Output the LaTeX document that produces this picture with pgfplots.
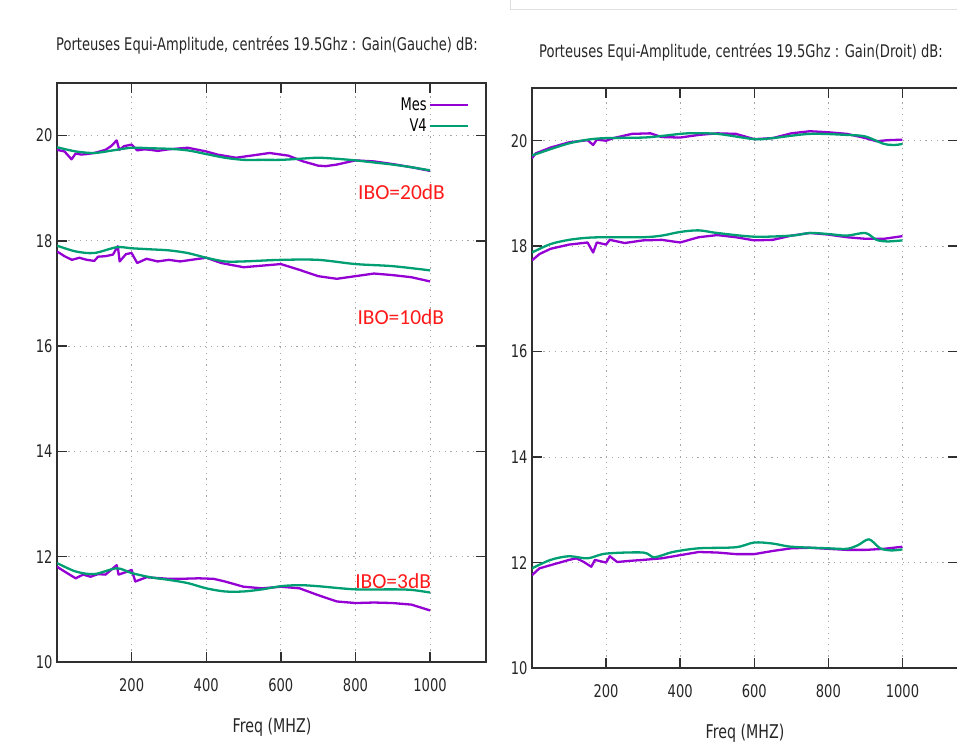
\documentclass[border=0pt]{standalone}
\usepackage{pgfplots}
\pgfplotsset{compat=1.18}
\usepackage{fontspec}
\setmainfont{DejaVu Sans}[FakeStretch=0.75]
\newfontfamily\ibofont{Carlito}
\definecolor{mes}{HTML}{9400D3}
\definecolor{vq}{HTML}{009E73}
\definecolor{ibo}{HTML}{FF1A1A}
\definecolor{axc}{HTML}{303030}
\pgfplotsset{gp/.style={
  scale only axis, xmin=0, xmax=1150, ymin=10, ymax=21,
  xtick={200,400,600,800,1000}, ytick={10,12,...,20},
  tick align=inside, major tick length=10bp,
  xmajorgrids, ymajorgrids,
  grid style={gray!70, line width=0.9bp, dash pattern=on 1.2bp off 4.5bp},
  axis line style={line width=1.4bp, axc},
  major tick style={line width=1.4bp, axc},
  tick label style={font=\fontsize{17.5}{19}\selectfont, text=black!85},
  /pgf/number format/assume math mode=true,
  /pgf/number format/1000 sep={},
  xticklabel style={yshift=-13bp},
  yticklabel style={xshift=-1bp},
  every axis plot/.append style={line width=2.3bp, line join=round},
  clip=true,
}}
\begin{document}
\begin{tikzpicture}
\useasboundingbox (0,0) rectangle (957bp,742bp);
% screenshot artifact
\draw[gray!25, line width=1bp] (510bp,742bp) -- (510bp,732bp) -- (957bp,732bp);
% titles
\node[font=\fontsize{17.5}{19}\selectfont, text=black!85] at (267bp,697bp) {Porteuses Equi-Amplitude, centrées 19.5Ghz : Gain(Gauche) dB:};
\node[font=\fontsize{17.5}{19}\selectfont, text=black!85] at (741bp,690bp) {Porteuses Equi-Amplitude, centrées 19.5Ghz : Gain(Droit) dB:};
\node[font=\fontsize{19}{21}\selectfont, text=black!85] at (272bp,15bp) {Freq (MHZ)};
\node[font=\fontsize{19}{21}\selectfont, text=black!85] at (745bp,9bp) {Freq (MHZ)};

% LEFT PANEL
\begin{axis}[gp, at={(57bp,80bp)}, anchor=south west, width=429bp, height=579bp,
  legend style={draw=none, fill=none, at={(0.968,0.982)}, anchor=north east,
    legend plot pos=right, cells={anchor=east}, font=\fontsize{17.5}{19}\selectfont,
    row sep=3bp},
  legend image code/.code={\draw[#1] (0bp,0bp) -- (38bp,0bp);}]
\addplot[mes] coordinates {(0,19.73)(20,19.70)(39,19.55)(50,19.66)(65,19.64)(80,19.65)(100,19.67)(115,19.70)(130,19.73)(145,19.80)(160,19.91)(167,19.73)(180,19.80)(200,19.83)(215,19.72)(235,19.74)(250,19.73)(270,19.71)(300,19.74)(350,19.77)(400,19.70)(430,19.64)(480,19.58)(520,19.62)(570,19.67)(620,19.62)(660,19.51)(700,19.43)(720,19.42)(750,19.45)(800,19.53)(850,19.51)(900,19.46)(950,19.40)(1000,19.33)};
\addlegendentry{Mes}
\addplot[vq, smooth, tension=0.5] coordinates {(0,19.78)(50,19.70)(100,19.67)(150,19.72)(200,19.77)(250,19.76)(300,19.75)(350,19.72)(400,19.65)(450,19.58)(500,19.54)(550,19.54)(600,19.54)(650,19.56)(700,19.58)(750,19.56)(800,19.53)(850,19.49)(900,19.45)(950,19.40)(1000,19.34)};
\addlegendentry{V4}
\addplot[mes, forget plot] coordinates {(0,17.80)(20,17.71)(40,17.64)(60,17.68)(80,17.64)(100,17.62)(110,17.70)(130,17.71)(150,17.74)(163,17.90)(168,17.61)(185,17.75)(200,17.77)(215,17.58)(240,17.66)(270,17.61)(300,17.64)(330,17.61)(360,17.64)(400,17.68)(440,17.58)(500,17.50)(550,17.53)(600,17.56)(650,17.45)(700,17.33)(750,17.28)(800,17.33)(850,17.38)(900,17.35)(950,17.31)(1000,17.23)};
\addplot[vq, smooth, tension=0.5, forget plot] coordinates {(0,17.91)(50,17.80)(100,17.77)(160,17.88)(200,17.86)(250,17.84)(300,17.82)(350,17.77)(400,17.68)(450,17.61)(500,17.61)(600,17.64)(700,17.64)(800,17.56)(900,17.52)(1000,17.44)};
\addplot[mes, forget plot] coordinates {(0,11.81)(20,11.72)(50,11.59)(70,11.66)(90,11.62)(110,11.67)(130,11.66)(160,11.84)(165,11.66)(190,11.72)(200,11.75)(210,11.53)(240,11.61)(280,11.59)(300,11.58)(330,11.58)(380,11.59)(420,11.58)(450,11.53)(500,11.43)(550,11.40)(600,11.43)(650,11.40)(700,11.27)(750,11.15)(800,11.12)(850,11.13)(900,11.12)(950,11.09)(1000,10.98)};
\addplot[vq, smooth, tension=0.5, forget plot] coordinates {(0,11.88)(50,11.72)(100,11.67)(160,11.78)(200,11.69)(250,11.61)(300,11.56)(350,11.50)(400,11.40)(450,11.34)(500,11.34)(550,11.38)(600,11.44)(650,11.46)(700,11.44)(800,11.38)(900,11.38)(950,11.37)(1000,11.32)};
\node[ibo, font=\ibofont\fontsize{21.5}{23}\selectfont, anchor=west, inner sep=0pt] at (axis cs:807,18.92) {IBO=20dB};
\node[ibo, font=\ibofont\fontsize{21.5}{23}\selectfont, anchor=west, inner sep=0pt] at (axis cs:805,16.56) {IBO=10dB};
\node[ibo, font=\ibofont\fontsize{21.5}{23}\selectfont, anchor=west, inner sep=0pt] at (axis cs:799,11.54) {IBO=3dB};
\end{axis}

% RIGHT PANEL
\begin{axis}[gp, at={(532bp,74bp)}, anchor=south west, width=426bp, height=580bp]
\addplot[mes] coordinates {(0,19.67)(10,19.76)(50,19.87)(100,19.97)(150,20.01)(165,19.92)(175,20.02)(200,20.00)(220,20.05)(270,20.13)(320,20.14)(350,20.07)(400,20.06)(450,20.11)(500,20.14)(550,20.13)(600,20.03)(650,20.05)(700,20.14)(750,20.18)(800,20.16)(850,20.13)(900,20.05)(930,19.99)(960,20.01)(1000,20.02)};
\addplot[vq, smooth, tension=0.5] coordinates {(0,19.72)(50,19.84)(100,19.95)(150,20.02)(200,20.05)(300,20.06)(350,20.09)(420,20.14)(500,20.13)(600,20.03)(650,20.05)(750,20.13)(850,20.11)(900,20.08)(950,19.94)(980,19.92)(1000,19.94)};
\addplot[mes] coordinates {(0,17.73)(20,17.85)(50,17.95)(100,18.03)(150,18.07)(165,17.88)(175,18.07)(200,18.03)(210,18.12)(250,18.06)(300,18.11)(350,18.12)(400,18.07)(450,18.17)(500,18.21)(550,18.17)(600,18.11)(650,18.12)(700,18.20)(750,18.25)(800,18.22)(850,18.17)(900,18.14)(950,18.14)(1000,18.19)};
\addplot[vq, smooth, tension=0.5] coordinates {(0,17.88)(50,18.04)(100,18.12)(150,18.16)(200,18.17)(300,18.17)(350,18.20)(400,18.27)(450,18.30)(500,18.25)(600,18.18)(700,18.20)(750,18.25)(800,18.23)(850,18.20)(900,18.25)(930,18.12)(960,18.09)(1000,18.11)};
\addplot[mes] coordinates {(0,11.76)(20,11.89)(50,11.95)(80,12.01)(100,12.05)(120,12.08)(140,12.01)(160,11.92)(170,12.05)(200,12.00)(210,12.12)(230,12.01)(260,12.03)(300,12.05)(350,12.08)(400,12.14)(450,12.20)(500,12.19)(550,12.16)(600,12.16)(650,12.22)(700,12.27)(750,12.28)(800,12.26)(850,12.24)(900,12.24)(950,12.26)(1000,12.30)};
\addplot[vq, smooth, tension=0.5] coordinates {(0,11.89)(50,12.05)(100,12.12)(150,12.08)(200,12.17)(300,12.19)(330,12.10)(380,12.20)(450,12.27)(550,12.29)(600,12.38)(650,12.36)(700,12.30)(800,12.27)(850,12.26)(880,12.33)(910,12.44)(940,12.27)(970,12.23)(1000,12.25)};
\end{axis}
\end{tikzpicture}
\end{document}
